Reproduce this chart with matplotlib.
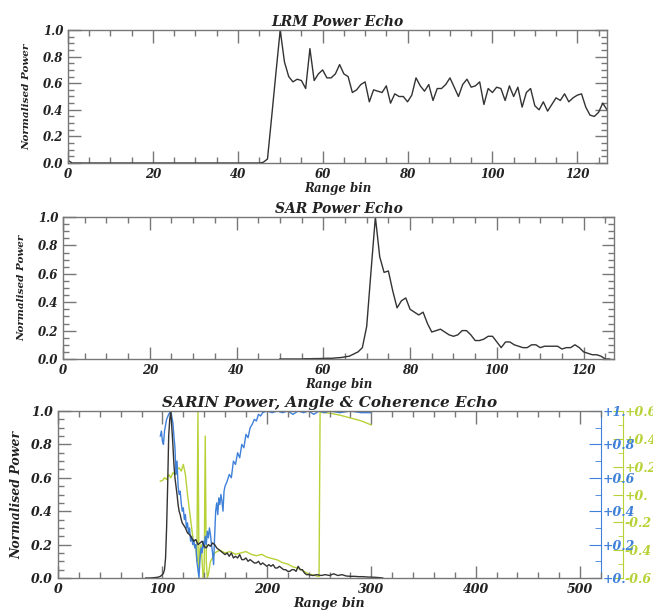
import numpy as np
import matplotlib as mpl
import matplotlib.pyplot as plt
from matplotlib.ticker import MultipleLocator, FixedLocator, FixedFormatter

mpl.rcParams["font.family"] = "DejaVu Serif"
mpl.rcParams["font.style"] = "italic"
mpl.rcParams["font.weight"] = "bold"
mpl.rcParams["axes.titleweight"] = "bold"
mpl.rcParams["axes.labelweight"] = "bold"

# LRM echo, 128 bins
lrm_bin = np.arange(0, 128)
lrm_pow = [0.02, 0.0, 0.0, 0.0, 0.0, 0.0, 0.0, 0.0, 0.0, 0.0,
           0.0, 0.0, 0.0, 0.0, 0.0, 0.0, 0.0, 0.0, 0.0, 0.0,
           0.0, 0.0, 0.0, 0.0, 0.0, 0.0, 0.0, 0.0, 0.0, 0.0,
           0.0, 0.0, 0.0, 0.0, 0.0, 0.0, 0.0, 0.0, 0.0, 0.0,
           0.0, 0.0, 0.0, 0.0, 0.0, 0.0, 0.005, 0.03, 0.35, 0.68,
           1.0, 0.76, 0.65, 0.61, 0.63, 0.62, 0.56, 0.86, 0.62, 0.67,
           0.70, 0.64, 0.64, 0.67, 0.74, 0.67, 0.65, 0.53, 0.55, 0.59,
           0.61, 0.46, 0.55, 0.54, 0.53, 0.58, 0.45, 0.52, 0.50, 0.50,
           0.46, 0.51, 0.64, 0.58, 0.54, 0.59, 0.47, 0.56, 0.56, 0.59,
           0.64, 0.57, 0.50, 0.59, 0.63, 0.57, 0.58, 0.61, 0.44, 0.56,
           0.53, 0.57, 0.56, 0.47, 0.58, 0.50, 0.57, 0.42, 0.53, 0.56,
           0.43, 0.40, 0.46, 0.39, 0.44, 0.49, 0.47, 0.52, 0.46, 0.49,
           0.51, 0.52, 0.42, 0.36, 0.35, 0.38, 0.45, 0.40]

# SAR echo
sar_bin = np.arange(50, 127)
sar_pow = [0.0, 0.0, 0.0, 0.0, 0.0, 0.0, 0.002, 0.002, 0.003, 0.003,
           0.004, 0.005, 0.005, 0.008, 0.01, 0.015, 0.02, 0.035, 0.05, 0.08,
           0.23, 0.62, 1.0, 0.72, 0.61, 0.62, 0.48, 0.36, 0.41, 0.43,
           0.35, 0.33, 0.31, 0.33, 0.25, 0.19, 0.20, 0.21, 0.19, 0.17,
           0.16, 0.17, 0.20, 0.20, 0.17, 0.13, 0.13, 0.14, 0.16, 0.16,
           0.12, 0.08, 0.12, 0.12, 0.10, 0.09, 0.08, 0.08, 0.10, 0.10,
           0.08, 0.09, 0.09, 0.09, 0.09, 0.07, 0.08, 0.08, 0.10, 0.08,
           0.05, 0.04, 0.03, 0.03, 0.02, 0.0, 0.0]

# SARIN power
sarin_bin = [84, 88, 92, 96, 98, 100, 101, 102, 103, 104, 105, 106, 107, 108, 109,
             110, 111, 112, 113, 114, 115, 116, 117, 118, 119, 120, 122, 124, 126, 128,
             130, 132, 134, 136, 138, 140, 142, 144, 146, 148, 150, 152, 154, 156, 158,
             160, 162, 164, 166, 168, 170, 172, 174, 176, 178, 180, 182, 184, 186, 188,
             190, 192, 194, 196, 198, 200, 202, 204, 206, 208, 210, 212, 214, 216, 218,
             220, 222, 224, 226, 228, 230, 232, 234, 236, 238, 240, 244, 248, 252, 256,
             260, 264, 268, 272, 276, 280, 284, 288, 292, 296, 300, 304, 308, 311]
sarin_pow = [0.0, 0.0, 0.002, 0.005, 0.01, 0.02, 0.03, 0.05, 0.12, 0.3, 0.55, 0.85, 0.95, 1.0, 0.9,
             0.8, 0.68, 0.6, 0.55, 0.5, 0.44, 0.4, 0.38, 0.35, 0.33, 0.32, 0.3, 0.27, 0.26, 0.24,
             0.22, 0.23, 0.2, 0.21, 0.22, 0.19, 0.18, 0.2, 0.19, 0.21, 0.2, 0.18, 0.17, 0.16, 0.15,
             0.14, 0.15, 0.13, 0.15, 0.12, 0.13, 0.12, 0.14, 0.11, 0.11, 0.12, 0.1, 0.11, 0.1, 0.09,
             0.09, 0.1, 0.08, 0.09, 0.08, 0.07, 0.08, 0.07, 0.08, 0.06, 0.06, 0.07, 0.06, 0.05, 0.05,
             0.04, 0.04, 0.05, 0.05, 0.04, 0.07, 0.05, 0.05, 0.03, 0.02, 0.02, 0.015, 0.02, 0.015, 0.02,
             0.015, 0.025, 0.015, 0.02, 0.012, 0.01, 0.01, 0.008, 0.008, 0.006, 0.005, 0.004, 0.002, 0.0]

# SARIN coherence (blue, 0..1)
coh_bin = [98, 99, 100, 101, 102, 104, 106, 108, 110, 111, 112, 113, 114, 115, 116,
           117, 118, 119, 120, 121, 122, 123, 124, 125, 126, 127, 128, 129, 130, 131,
           132, 133, 134, 135, 136, 137, 138, 139, 140, 141, 142, 143, 144, 145, 146,
           147, 148, 149, 150, 151, 152, 153, 154, 155, 156, 157, 158, 159, 160, 162,
           164, 166, 168, 170, 172, 174, 176, 178, 180, 182, 184, 186, 188, 190, 192,
           194, 196, 200, 205, 210, 215, 220, 225, 230, 235, 240, 245, 250, 255, 260,
           270, 280, 290, 300]
coh = [0.85, 0.88, 0.82, 0.8, 0.88, 0.95, 0.98, 1.0, 0.93, 0.85, 0.78, 0.62, 0.7, 0.55, 0.5,
       0.52, 0.45, 0.4, 0.42, 0.35, 0.38, 0.3, 0.33, 0.27, 0.3, 0.22, 0.25, 0.2, 0.23, 0.18,
       0.2, 0.1, 0.05, 0.0, 0.12, 0.18, 0.15, 0.22, 0.18, 0.25, 0.2, 0.28, 0.24, 0.3, 0.26,
       0.2, 0.15, 0.08, 0.25, 0.4, 0.45, 0.38, 0.48, 0.44, 0.5, 0.46, 0.4, 0.52, 0.55, 0.58,
       0.62, 0.6, 0.7, 0.68, 0.75, 0.72, 0.8, 0.78, 0.86, 0.84, 0.9, 0.92, 0.95, 0.94, 0.98,
       0.97, 0.99, 1.0, 0.99, 1.0, 0.99, 1.0, 0.98, 1.0, 0.99, 1.0, 0.98, 1.0, 0.99, 1.0,
       0.99, 1.0, 0.99, 0.99]

# SARIN angle (yellow, -0.6..0.6)
ang_bin = [98, 100, 102, 104, 106, 108, 110, 112, 114, 116, 118, 120, 122, 124, 126,
           128, 130, 132, 133, 134, 135, 136, 137, 138, 139, 140, 141, 142, 143, 144,
           146, 148, 150, 155, 160, 165, 170, 175, 180, 185, 190, 195, 200, 205, 210,
           215, 220, 225, 230, 235, 240, 245, 250, 251, 252, 260, 270, 280, 290, 300]
ang = [0.096, 0.1, 0.12, 0.108, 0.144, 0.12, 0.156, 0.144, 0.18, 0.192, 0.168, 0.216, 0.144, 0.0, -0.12,
       -0.24, -0.36, -0.384, -0.48, 0.6, -0.54, -0.42, -0.36, -0.48, -0.6, -0.54, 0.42, -0.48, -0.6, -0.576,
       -0.48, -0.456, -0.42, -0.40, -0.42, -0.41, -0.43, -0.42, -0.41, -0.43, -0.44, -0.43, -0.45, -0.46, -0.47,
       -0.49, -0.50, -0.52, -0.53, -0.55, -0.57, -0.58, -0.59, 0.6, 0.59, 0.585, 0.57, 0.55, 0.53, 0.50]

frame = "#777777"
linec = "#333333"
textc = "#222222"
blue = "#3f80d8"
yellow = "#b6d236"


def style(ax, xmaj, xmin, fs):
    ax.set_ylim(0, 1.0)
    ax.yaxis.set_major_locator(MultipleLocator(0.2))
    ax.yaxis.set_minor_locator(MultipleLocator(0.05))
    ax.xaxis.set_major_locator(MultipleLocator(xmaj))
    ax.xaxis.set_minor_locator(MultipleLocator(xmin))
    ax.yaxis.set_major_formatter(mpl.ticker.FormatStrFormatter("%.1f"))
    ax.tick_params(which="both", direction="in", top=True, right=True, colors=frame,
                   labelcolor=textc, labelsize=fs, width=1.0)
    ax.tick_params(which="major", length=9)
    ax.tick_params(which="minor", length=4.5)
    for s in ax.spines.values():
        s.set_color(frame)
        s.set_linewidth(1.0)


fig = plt.figure(figsize=(6.53, 6.12), dpi=100)

# LRM
ax1 = fig.add_axes([68 / 653, 1 - 163 / 612, 539 / 653, 133 / 612])
ax1.plot(lrm_bin, lrm_pow, color=linec, lw=1.0)
ax1.set_xlim(0, 127)
style(ax1, 20, 5, 8.5)
ax1.set_title("LRM Power Echo", fontsize=10, pad=3, color=textc)
ax1.set_xlabel("Range bin", fontsize=8.5, labelpad=1, color=textc)
ax1.set_ylabel("Normalised Power", fontsize=7.5, labelpad=8, color=textc)

# SAR
ax2 = fig.add_axes([63 / 653, 1 - 359 / 612, 551 / 653, 142 / 612])
ax2.plot(sar_bin, sar_pow, color=linec, lw=1.0)
ax2.set_xlim(0, 127)
style(ax2, 20, 5, 8.5)
ax2.set_title("SAR Power Echo", fontsize=10, pad=3, color=textc)
ax2.set_xlabel("Range bin", fontsize=8.5, labelpad=1, color=textc)
ax2.set_ylabel("Normalised Power", fontsize=7.5, labelpad=8, color=textc)

# SARIN
ax3 = fig.add_axes([58 / 653, 1 - 578 / 612, 543 / 653, 167 / 612])
ax3.set_xlim(0, 520)
style(ax3, 100, 20, 9)
ax3.tick_params(which="both", right=False)
ax3.spines["right"].set_visible(False)
ax3.set_title("SARIN Power, Angle & Coherence Echo", fontsize=11, pad=3, color=textc)
ax3.set_xlabel("Range bin", fontsize=9, labelpad=1, color=textc)
ax3.set_ylabel("Normalised Power", fontsize=9, labelpad=6, color=textc)

axb = ax3.twinx()
axb.set_ylim(0, 1.0)
axa = ax3.twinx()
axa.set_ylim(-0.6, 0.6)

axa.plot(ang_bin, ang, color=yellow, lw=1.0)
axb.plot(coh_bin, coh, color=blue, lw=1.0)
ax3.plot(sarin_bin, sarin_pow, color=linec, lw=1.0)
ax3.set_zorder(3)
ax3.patch.set_visible(False)
axb.set_zorder(2)
axa.set_zorder(1)

for s in ["left", "top", "bottom"]:
    axb.spines[s].set_visible(False)
    axa.spines[s].set_visible(False)
axb.spines["right"].set_color(blue)
axb.yaxis.set_major_locator(FixedLocator([0, 0.2, 0.4, 0.6, 0.8, 1.0]))
axb.yaxis.set_major_formatter(FixedFormatter(["+0.", "+0.2", "+0.4", "+0.6", "+0.8", "+1."]))
axb.yaxis.set_minor_locator(MultipleLocator(0.1))
axb.tick_params(which="both", direction="in", colors=blue, labelsize=9, pad=1)
axb.tick_params(which="major", length=9)
axb.tick_params(which="minor", length=4.5)

axa.spines["right"].set_position(("axes", 1.0405))
axa.spines["right"].set_color(yellow)
axa.yaxis.set_major_locator(FixedLocator([-0.6, -0.4, -0.2, 0.0, 0.2, 0.4, 0.6]))
axa.yaxis.set_major_formatter(FixedFormatter(["-0.6", "-0.4", "-0.2", "+0.", "+0.2", "+0.4", "+0.6"]))
axa.yaxis.set_minor_locator(MultipleLocator(0.1))
axa.tick_params(which="both", direction="in", colors=yellow, labelsize=9, pad=1)
axa.tick_params(which="major", length=7)
axa.tick_params(which="minor", length=3.5)

fig.savefig("out.png", dpi=100)
